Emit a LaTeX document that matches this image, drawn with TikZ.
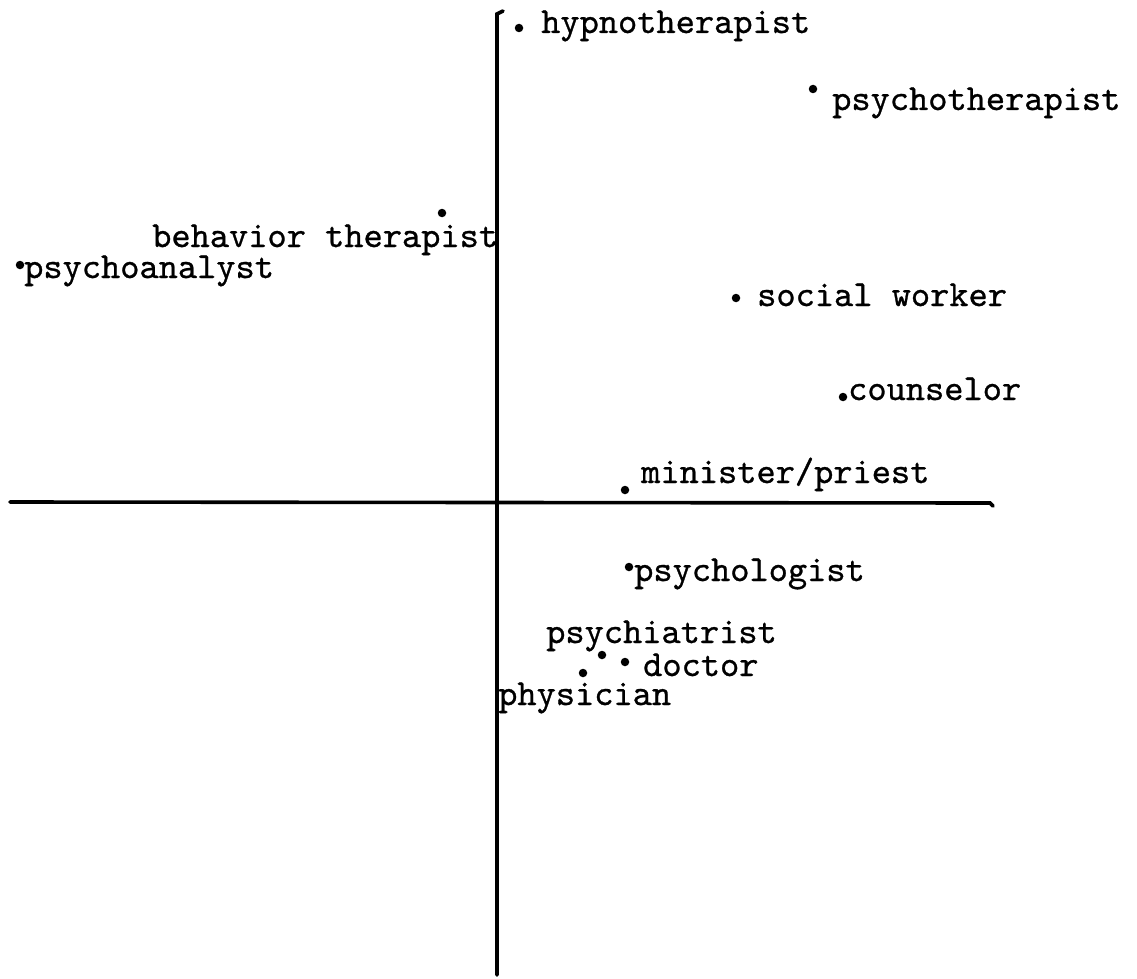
\documentclass[tikz,border=0pt]{standalone}
\usepackage{fontspec}
\newfontfamily\tw{lmmono10-regular.otf}[FakeBold=0.8]
\begin{document}
\begin{tikzpicture}[x=1pt,y=-1pt,
  pt/.style={circle,fill=black,inner sep=0pt,minimum size=8.5pt},
  lbl/.style={anchor=base west,inner sep=0pt,font=\tw\fontsize{36.6}{42}\selectfont},
  axis/.style={line width=3.6pt,line cap=round}]
\useasboundingbox (0,0) rectangle (1137,979);
% axes
\coordinate (vtop) at (497,14);
\coordinate (vbot) at (497,975);
\coordinate (hl) at (10,502);
\coordinate (hr) at (990,503);
\draw[axis] (vbot) -- (vtop) -- (503,11);
\draw[axis] (hl) -- (hr) -- (993,506);
% points
\node[pt] (hyp) at (519,28) {};
\node[lbl] (hypL) at (541,33) {hypnotherapist};
\node[pt] (psyt) at (813,89) {};
\node[lbl] (psytL) at (832,110) {psychotherapist};
\node[pt] (beh) at (442,213) {};
\node[lbl] (behL) at (152,247) {behavior therapist};
\node[pt] (pan) at (20,265) {};
\node[lbl] (panL) at (24,278) {psychoanalyst};
\node[pt] (soc) at (736,298) {};
\node[lbl] (socL) at (757,306) {social worker};
\node[pt] (cou) at (843,397) {};
\node[lbl] (couL) at (848,400) {counselor};
\node[pt] (min) at (625,490) {};
\node[lbl] (minL) at (641,483) {minister/priest};
\node[pt] (psl) at (629,567) {};
\node[lbl] (pslL) at (634,581) {psychologist};
\node[pt] (psy) at (602,655) {};
\node[lbl] (psyL) at (546,643) {psychiatrist};
\node[pt] (doc) at (625,662) {};
\node[lbl] (docL) at (643,676) {doctor};
\node[pt] (phy) at (583,673) {};
\node[lbl] (phyL) at (498,705) {physician};
\end{tikzpicture}
\end{document}
